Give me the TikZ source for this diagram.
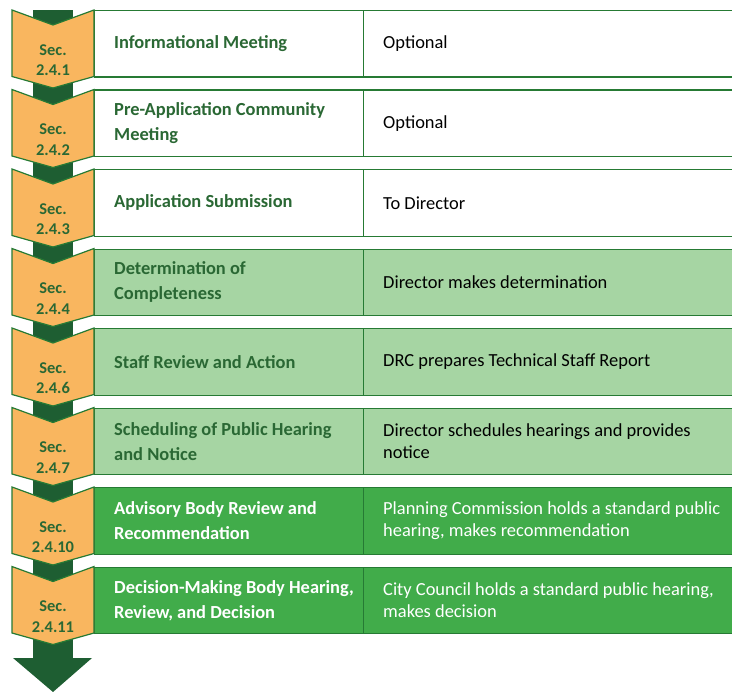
\documentclass[tikz,border=0pt]{standalone}
\usepackage{fontspec}
\setmainfont{Carlito}
\usetikzlibrary{positioning}
\definecolor{arrowcol}{RGB}{30,94,50}
\definecolor{edgecol}{RGB}{38,122,52}
\definecolor{seccol}{RGB}{249,182,95}
\definecolor{lightcol}{RGB}{166,213,163}
\definecolor{midcol}{RGB}{65,172,74}
\definecolor{titlecol}{RGB}{42,104,52}
\begin{document}
\begin{tikzpicture}[
  x=1bp, y=-1bp,
  chev/.style    = {fill=seccol, draw=edgecol, line width=1.2bp, line join=miter},
  leftb/.style   = {draw=edgecol, line width=1.3bp, anchor=north west, inner sep=0pt,
                    minimum width=269bp, minimum height=66.5bp},
  rightb/.style  = {draw=edgecol, line width=1.3bp, anchor=north west, inner sep=0pt,
                    minimum width=380bp, minimum height=66.5bp},
  titlet/.style  = {anchor=west, align=left, inner sep=0pt,
                    font=\fontsize{18.5}{25}\selectfont\bfseries},
  desct/.style   = {anchor=west, align=left, inner sep=0pt,
                    font=\fontsize{18.5}{22.5}\selectfont},
  sect/.style    = {align=center, inner sep=0pt, text=titlecol,
                    font=\fontsize{16.5}{20.5}\selectfont\bfseries},
]
\useasboundingbox (0,0) rectangle (732,692);
\clip (0,0) rectangle (732,692);

% ---------- big flow arrow behind the chevrons ----------
\coordinate (shaftTop) at (53,10);
\coordinate (tip) at (53,692);
\fill[arrowcol] (33,10) rectangle (73,660);
\fill[arrowcol] (13,658) -- (92,658) -- (tip) -- cycle;

% ---------- one row per step: box pair + section chevron ----------
\foreach \i/\sec/\fc/\tc/\dc/\title/\desc in {
  1/2.4.1/white/titlecol/black/{Informational Meeting}/{Optional},
  2/2.4.2/white/titlecol/black/{Pre-Application Community\\Meeting}/{Optional},
  3/2.4.3/white/titlecol/black/{Application Submission}/{To Director},
  4/2.4.4/lightcol/titlecol/black/{Determination of\\Completeness}/{Director makes determination},
  5/2.4.6/lightcol/titlecol/black/{Staff Review and Action}/{DRC prepares Technical Staff Report},
  6/2.4.7/lightcol/titlecol/black/{Scheduling of Public Hearing\\and Notice}/{Director schedules hearings and provides\\notice},
  7/2.4.10/midcol/white/white/{Advisory Body Review and\\Recommendation}/{Planning Commission holds a standard public\\hearing, makes recommendation},
  8/2.4.11/midcol/white/white/{Decision-Making Body Hearing,\\Review, and Decision}/{City Council holds a standard public hearing,\\makes decision}}{
  \pgfmathsetmacro\top{10+(\i-1)*79.5}
  \node[leftb, fill=\fc]  (L\i) at (94,\top) {};
  \node[rightb, fill=\fc] (R\i) at (363,\top) {};
  \node[titlet, text=\tc, right=20bp of L\i.west] (t\i) {\title};
  \node[desct, text=\dc, right=20bp of R\i.west]  (d\i) {\desc};
  \draw[chev] (12,\top) -- (53,\top+15) -- (94,\top) -- (94,\top+66.5)
              -- (53,\top+78) -- (12,\top+66.5) -- cycle;
  \node[sect] (s\i) at (53,\top+50) {Sec.\\\sec};
}

\end{tikzpicture}
\end{document}
